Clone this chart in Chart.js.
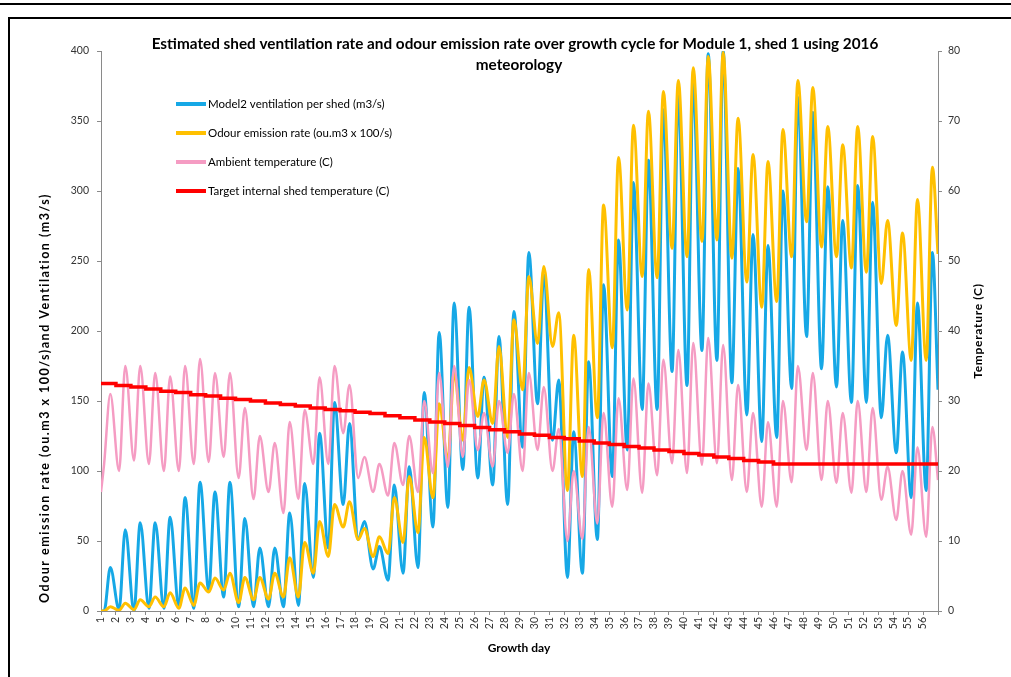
<!DOCTYPE html>
<html>
<head>
<meta charset="utf-8">
<title>Shed ventilation and odour emission</title>
<script src="https://cdn.jsdelivr.net/npm/chart.js@4.4.1/dist/chart.umd.min.js"></script>
<style>
  html, body { margin: 0; padding: 0; background: #fff; }
  body { width: 1011px; height: 677px; position: relative; overflow: hidden; }
  #rule { position: absolute; left: 0; top: 3px; width: 1011px; height: 2px; background: #000; }
  #frame { position: absolute; left: 8px; top: 17px; width: 1100px; height: 700px;
           border-left: 2px solid #000; border-top: 2px solid #000; }
  #chart { position: absolute; left: 0; top: 0; }
</style>
</head>
<body>
<div id="rule"></div>
<div id="frame"></div>
<canvas id="chart" width="1011" height="677"></canvas>
<script>
// growth days 1..56, one trough (early morning) and one peak (afternoon) read per day
const days = [];
for (let d = 1; d <= 56; d++) days.push(d);
const troughHour = 5;
const peakHour = 15;

// Model 2 ventilation per shed (m3/s)
const ventStart = 0;
const ventLow = [0, 1, 0, 2, 2, 3, 2, 15, 10, 3, 3, 3, 3, 4, 24, 45, 76, 51, 30, 22,
  27, 31, 60, 74, 101, 95, 90, 76, 117, 148, 122, 24, 27, 51, 96, 115, 144, 144, 171, 161,
  186, 179, 163, 140, 121, 124, 159, 196, 173, 160, 149, 149, 138, 113, 81, 86];
const ventHigh = [31, 58, 63, 63, 67, 81, 92, 85, 92, 66, 45, 45, 70, 91, 127, 149, 134, 64, 46, 90,
  103, 156, 199, 220, 217, 167, 196, 214, 256, 240, 165, 128, 178, 233, 265, 306, 322, 358, 369, 378,
  398, 400, 316, 269, 261, 300, 367, 356, 303, 279, 304, 292, 197, 185, 220, 256];
const ventEnd = 158;

// odour emission rate (ou.m3 x 100/s)
const odourStart = 0;
const odourLow = [0, 0.5, 1, 3, 3, 2, 4, 13.5, 15, 6, 8, 8.5, 10, 10, 27, 39, 60, 51, 39, 41,
  49, 56, 81, 108, 122, 139, 134, 124, 158, 191, 189, 86, 96, 138, 188, 215, 239, 238, 259, 253,
  264, 265, 252, 235, 217, 221, 253, 278, 260, 253, 245, 242, 234, 204, 179, 179];
const odourHigh = [3, 5.5, 8, 10, 13, 16.5, 20, 23.5, 27, 24, 24, 27, 38, 49, 64, 76, 78, 59, 53, 81,
  96, 124, 148, 170, 174, 165, 189, 208, 239, 246, 213, 197, 244, 290, 324, 347, 357, 371, 379, 388,
  396, 399, 352, 326, 321, 344, 379, 374, 346, 333, 346, 339, 279, 270, 294, 317];
const odourEnd = 255;

// ambient temperature (C)
const ambStart = 17;
const ambLow = [21, 20, 21.5, 21, 20, 20, 21, 21.3, 22, 19, 16, 17, 14, 16, 21, 21, 25.4, 19, 17, 16.5,
  18, 17, 19.7, 20.6, 22, 23, 20.6, 22.6, 20, 23, 20, 10, 10.3, 12.5, 14.9, 17.3, 16.9, 19.4, 21.1, 19.7,
  20.9, 21.1, 18.7, 17, 14.9, 14.9, 18.4, 23, 18.7, 18.3, 16.9, 17, 15.9, 13, 10.9, 10.6];
const ambHigh = [31, 35, 35, 34, 33.5, 35, 36, 34, 34, 29, 25, 24, 27, 28.7, 33.4, 35, 32.3, 22, 21, 24,
  25, 30, 34, 35, 33, 28.3, 30, 31, 34, 32, 26, 20, 26.3, 28.3, 30.4, 33.2, 32.5, 35.9, 37.3, 38.3,
  39, 38, 32.3, 28.3, 27, 30, 35, 34, 30, 28.3, 30, 29, 20.6, 20, 23.4, 26.3];
const ambEnd = 18.7;

// target internal shed temperature (C), one setpoint per day
const target = [32.7, 32.5, 32.2, 32.0, 31.7, 31.4, 31.2, 30.9, 30.7, 30.4, 30.2, 30.0, 29.7, 29.5,
  29.3, 29.0, 28.8, 28.6, 28.4, 28.2, 27.9, 27.6, 27.3, 27.0, 26.8, 26.5, 26.2, 25.9, 25.6, 25.3,
  25.1, 24.8, 24.6, 24.3, 24.0, 23.8, 23.5, 23.3, 23.0, 22.8, 22.5, 22.3, 22.0, 21.8, 21.5, 21.3,
  21.0, 21.0, 21.0, 21.0, 21.0, 21.0, 21.0, 21.0, 21.0, 21.0];
const targetEnd = 21.0;

const titleLines = [
  'Estimated shed ventilation rate and odour emission rate over growth cycle for Module 1, shed 1 using 2016',
  'meteorology'
];
const leftTitle = 'Odour emission rate (ou.m3 x 100/s)and Ventilation (m3/s)';
const rightTitle = 'Temperature (C)';
const xTitle = 'Growth day';

const FONT = 'Lato, "Open Sans", sans-serif';

function dailySeries(start, low, high, end) {
  const pts = [{ x: 1, y: start }];
  days.forEach((d, i) => {
    pts.push({ x: d + troughHour / 24, y: low[i] });
    pts.push({ x: d + peakHour / 24, y: high[i] });
  });
  pts.push({ x: 57, y: end });
  return pts;
}

const targetPts = days.map((d, i) => ({ x: d, y: target[i] }));
targetPts.push({ x: 57, y: targetEnd });

const datasets = [
  { label: 'Target internal shed temperature (C)', data: targetPts, yAxisID: 'yT',
    borderColor: '#ff0000', borderWidth: 3.5, stepped: 'after', order: 0 },
  { label: 'Ambient temperature (C)', data: dailySeries(ambStart, ambLow, ambHigh, ambEnd), yAxisID: 'yT',
    borderColor: '#f59cc3', borderWidth: 2.5, cubicInterpolationMode: 'monotone', order: 1 },
  { label: 'Odour emission rate (ou.m3 x 100/s)', data: dailySeries(odourStart, odourLow, odourHigh, odourEnd), yAxisID: 'y',
    borderColor: '#ffc000', borderWidth: 3, cubicInterpolationMode: 'monotone', order: 2 },
  { label: 'Model2 ventilation per shed (m3/s)', data: dailySeries(ventStart, ventLow, ventHigh, ventEnd), yAxisID: 'y',
    borderColor: '#16a8e6', borderWidth: 3, cubicInterpolationMode: 'monotone', order: 3 }
];

// legend order as shown inside the plot
const legendOrder = [3, 2, 1, 0];

const chartText = {
  id: 'chartText',
  afterDraw(chart) {
    const ctx = chart.ctx;
    const area = chart.chartArea;
    ctx.save();
    ctx.fillStyle = '#000';
    ctx.textAlign = 'center';
    ctx.textBaseline = 'middle';

    ctx.font = 'bold 15.3px ' + FONT;
    ctx.fillText(titleLines[0], 515, 44);
    ctx.fillText(titleLines[1], 519, 65);

    ctx.font = 'bold 12px ' + FONT;
    ctx.fillText(xTitle, 519, 648);

    ctx.save();
    ctx.translate(45, 398);
    ctx.rotate(-Math.PI / 2);
    ctx.font = 'bold 12.5px ' + FONT;
    ctx.letterSpacing = '1.5px';
    ctx.fillText(leftTitle, 0, 0);
    ctx.restore();

    ctx.save();
    ctx.translate(978, (area.top + area.bottom) / 2);
    ctx.rotate(-Math.PI / 2);
    ctx.font = 'bold 12px ' + FONT;
    ctx.letterSpacing = '0.7px';
    ctx.fillText(rightTitle, 0, 0);
    ctx.restore();

    // legend
    ctx.textAlign = 'left';
    ctx.font = '11.5px ' + FONT;
    legendOrder.forEach((idx, row) => {
      const ds = chart.data.datasets[idx];
      const y = 104 + row * 29;
      ctx.strokeStyle = ds.borderColor;
      ctx.lineWidth = 4;
      ctx.beginPath();
      ctx.moveTo(176, y);
      ctx.lineTo(206, y);
      ctx.stroke();
      ctx.fillStyle = '#000';
      ctx.fillText(ds.label, 208, y);
    });
    ctx.restore();
  }
};

const axisGrey = '#8a8a8a';
const tickFont = { family: FONT, size: 10.5 };

new Chart(document.getElementById('chart'), {
  type: 'line',
  data: { datasets: datasets },
  options: {
    responsive: false,
    animation: false,
    devicePixelRatio: 1,
    layout: { padding: { top: 51, left: 0, right: 0, bottom: 0 } },
    elements: { point: { radius: 0 }, line: { fill: false } },
    plugins: {
      legend: { display: false },
      title: { display: false },
      tooltip: { enabled: false }
    },
    scales: {
      x: {
        type: 'linear',
        min: 1,
        max: 57,
        afterFit: s => { s.height = 66; },
        grid: { drawOnChartArea: false, drawTicks: true, tickLength: 4, color: axisGrey },
        border: { color: axisGrey },
        ticks: {
          stepSize: 1,
          autoSkip: false,
          minRotation: 90,
          maxRotation: 90,
          padding: 2,
          color: '#333',
          font: tickFont,
          callback: v => (days.includes(v) ? String(v) : '')
        }
      },
      y: {
        position: 'left',
        min: 0,
        max: 400,
        afterFit: s => { s.width = 101; },
        grid: { drawOnChartArea: false, drawTicks: true, tickLength: 4, color: axisGrey },
        border: { color: axisGrey },
        ticks: { stepSize: 50, padding: 8, color: '#333', font: tickFont }
      },
      yT: {
        position: 'right',
        min: 0,
        max: 80,
        afterFit: s => { s.width = 73; },
        grid: { drawOnChartArea: false, drawTicks: true, tickLength: 4, color: axisGrey },
        border: { color: axisGrey },
        ticks: { stepSize: 10, padding: 6, color: '#333', font: tickFont }
      }
    }
  },
  plugins: [chartText]
});
</script>
</body>
</html>
